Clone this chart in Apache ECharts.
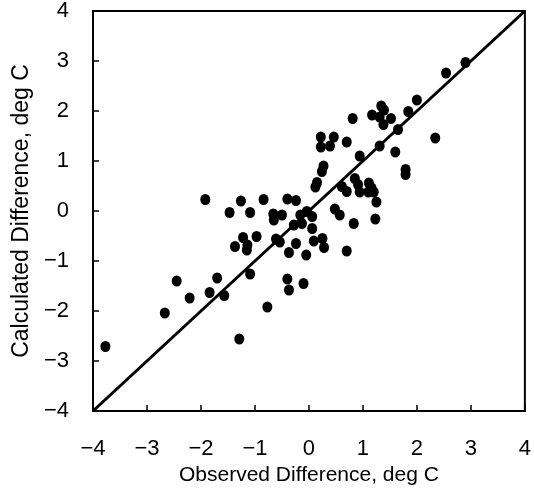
<!DOCTYPE html>
<html>
<head>
<meta charset="utf-8">
<script src="https://cdn.jsdelivr.net/npm/echarts@6/dist/echarts.min.js"></script>
<style>
html,body{margin:0;padding:0;background:#fff;}
#chart{width:534px;height:492px;}
</style>
</head>
<body>
<div id="chart"></div>
<script>
var observed = [2.9, 2.54, 2.0, 1.84, 1.65, 2.34, 1.34, 1.39, 1.17, 1.52, 1.38, 1.31,
  0.81, 0.22, 0.46, 0.22, 0.39, 0.70, 1.31, 1.60, 0.94, 1.79, 1.79, 0.27, 0.24,
  0.15, 0.12, 0.85, 0.91, 1.11, 1.16, 0.94, 1.10, 1.20, 1.25, 0.61, 0.70, 0.48,
  0.57, 1.23, 0.83, -0.16, -0.04, 0.06, -0.28, -0.13, 0.06, -0.24, 0.09, 0.25,
  0.28, -0.37, -0.05, 0.70, -0.40, -0.37, -0.10, -1.92, -1.26, -0.84, -0.40,
  -0.24, -1.47, -1.09, -0.66, -0.50, -0.65, -0.97, -1.22, -1.37, -1.14, -1.15,
  -0.61, -0.54, -1.70, -1.09, -1.84, -1.57, -2.21, -2.45, -0.77, -1.29, -2.67, -3.77];
var calculated = [2.97, 2.76, 2.22, 1.99, 1.63, 1.46, 2.10, 2.02, 1.92, 1.85, 1.73, 1.88,
  1.85, 1.48, 1.48, 1.28, 1.30, 1.38, 1.30, 1.18, 1.10, 0.83, 0.73, 0.90, 0.79,
  0.57, 0.48, 0.65, 0.53, 0.56, 0.46, 0.38, 0.38, 0.38, 0.18, 0.49, 0.39, 0.04,
  -0.08, -0.16, -0.25, -0.08, -0.01, -0.11, -0.28, -0.25, -0.35, -0.65, -0.60, -0.55,
  -0.73, -0.83, -0.88, -0.80, -1.36, -1.58, -1.45, 0.23, 0.20, 0.23, 0.24,
  0.21, -0.03, -0.03, -0.06, -0.08, -0.18, -0.51, -0.53, -0.71, -0.68, -0.78,
  -0.56, -0.62, -1.34, -1.26, -1.63, -1.69, -1.74, -1.40, -1.92, -2.56, -2.04, -2.71];
var lineX = [-4, 4];
var lineY = [-4, 4];
var axisMin = -4, axisMax = 4, axisStep = 1;
var xTitle = 'Observed Difference, deg C';
var yTitle = 'Calculated Difference, deg C';

var points = observed.map(function (v, i) { return [v, calculated[i]]; });
var linePts = lineX.map(function (v, i) { return [v, lineY[i]]; });
var font = 'Liberation Sans, Arial, Helvetica, sans-serif';
function fmt(v) { return String(v).replace('-', '\u2212'); }

var chart = echarts.init(document.getElementById('chart'));
chart.setOption({
  animation: false,
  backgroundColor: '#fff',
  grid: { left: 93, right: 5, top: 11, bottom: 81, show: true, borderColor: '#000', borderWidth: 2 },
  xAxis: {
    type: 'value', min: axisMin, max: axisMax, interval: axisStep,
    name: xTitle, nameLocation: 'middle', nameGap: 54,
    nameTextStyle: { fontFamily: font, fontSize: 21, color: '#000' },
    axisLine: { show: true, onZero: false, lineStyle: { color: '#000', width: 2 } },
    axisTick: { show: true, inside: true, length: 6, lineStyle: { color: '#000', width: 1.5 } },
    axisLabel: { margin: 27, fontFamily: font, fontSize: 22, color: '#000', formatter: fmt },
    splitLine: { show: false }
  },
  yAxis: {
    type: 'value', min: axisMin, max: axisMax, interval: axisStep,
    name: yTitle, nameLocation: 'middle', nameGap: 56,
    nameTextStyle: { fontFamily: font, fontSize: 23, color: '#000' },
    axisLine: { show: true, onZero: false, lineStyle: { color: '#000', width: 2 } },
    axisTick: { show: true, inside: true, length: 6, lineStyle: { color: '#000', width: 1.5 } },
    axisLabel: { margin: 24, fontFamily: font, fontSize: 22, color: '#000', formatter: fmt },
    splitLine: { show: false }
  },
  series: [
    { type: 'line', data: linePts, showSymbol: false, symbol: 'none',
      lineStyle: { color: '#000', width: 3 }, z: 2 },
    { type: 'scatter', data: points, symbol: 'circle', symbolSize: [10, 11],
      itemStyle: { color: '#000', opacity: 1 }, z: 3 }
  ]
});
</script>
</body>
</html>
